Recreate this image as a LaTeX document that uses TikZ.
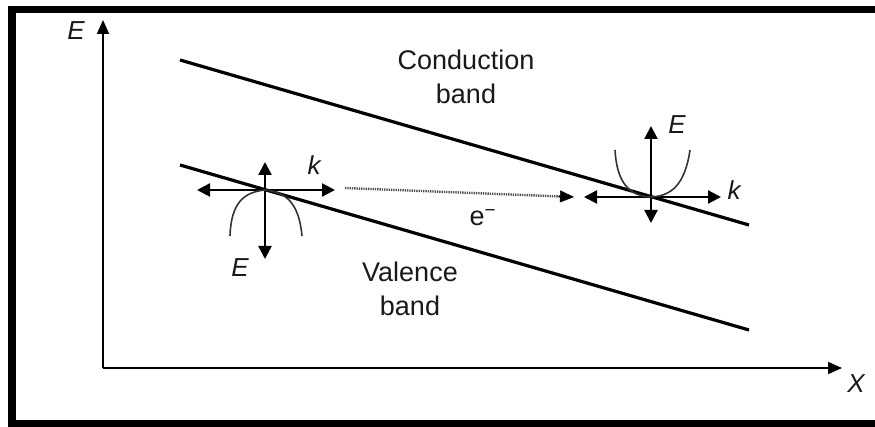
\documentclass[tikz,border=0pt]{standalone}
\usepackage{fontspec}
\setmainfont{Liberation Sans}
\usetikzlibrary{arrows.meta,calc}
\begin{document}
\begin{tikzpicture}[x=1pt,y=-1pt,
  band/.style={line width=3.2pt},
  axis/.style={line width=1.8pt,-{Triangle[length=14pt,width=12pt]}},
  cross/.style={line width=2.3pt,{Triangle[length=13pt,width=13pt]}-{Triangle[length=13pt,width=13pt]}},
  curve/.style={line width=1.6pt,black!80},
  lbl/.style={font=\fontsize{27}{34}\selectfont,align=center,inner sep=0pt,text=black!90},
  ilbl/.style={font=\fontsize{26}{30}\selectfont\itshape,inner sep=0pt,text=black!90}]
\useasboundingbox (0,0) rectangle (875,427);
% frame
\fill[black] (8,6) rectangle (875,13);
\fill[black] (8,6) rectangle (16,427);
\fill[black] (8,420) rectangle (875,427);
% axes
\coordinate (O) at (103,368);
\coordinate (Etop) at (103,20);
\coordinate (Xend) at (842,368);
\draw[axis] (O) -- (Etop);
\draw[axis] (O) -- (Xend);
\node[ilbl] (Eax) at (76,31) {E};
\node[ilbl] (Xax) at (856,384) {X};
% bands
\coordinate (c1) at (180,60);
\coordinate (c2) at (749,225);
\coordinate (v1) at (180,165);
\coordinate (v2) at (749,330);
\draw[band] (c1) -- (c2);
\draw[band] (v1) -- (v2);
\node[lbl] (cb) at (466,77) {Conduction\\band};
\node[lbl] (vb) at (410,289) {Valence\\band};
% left crosshair (valence)
\coordinate (L) at (265,190);
\coordinate (Ll) at (197,190);
\coordinate (Lr) at (335,190);
\coordinate (Lt) at (265,162);
\coordinate (Lb) at (265,259);
\draw[cross] (Ll) -- (Lr);
\draw[cross] (Lt) -- (Lb);
\draw[curve] (230,236) .. controls (231,203) and (244,192) .. (L) .. controls (286,192) and (299,203) .. (302,236);
\node[ilbl] (kL) at (314,165) {k};
\node[ilbl] (EL) at (240,268) {E};
% right crosshair (conduction)
\coordinate (R) at (651,197);
\coordinate (Rl) at (584,197);
\coordinate (Rr) at (721,197);
\coordinate (Rt) at (651,126);
\coordinate (Rb) at (651,223);
\draw[cross] (Rl) -- (Rr);
\draw[cross] (Rt) -- (Rb);
\draw[curve] (615,150) .. controls (617,184) and (630,196) .. (R) .. controls (672,196) and (685,184) .. (690,150);
\node[ilbl] (kR) at (734,190) {k};
\node[ilbl] (ER) at (677,125) {E};
% electron transfer
\coordinate (d1) at (345,188);
\coordinate (d2) at (574,197);
\draw[line width=2.4pt,black!70,dash pattern=on 1.3pt off 1pt] (d1) -- ($(d1)!0.94!(d2)$);
\draw[line width=0.5pt,-{Triangle[length=14pt,width=12pt]},black] ($(d1)!0.93!(d2)$) -- (d2);
\node[lbl] (el) at (483,218) {e\textsuperscript{−}};
\end{tikzpicture}
\end{document}
